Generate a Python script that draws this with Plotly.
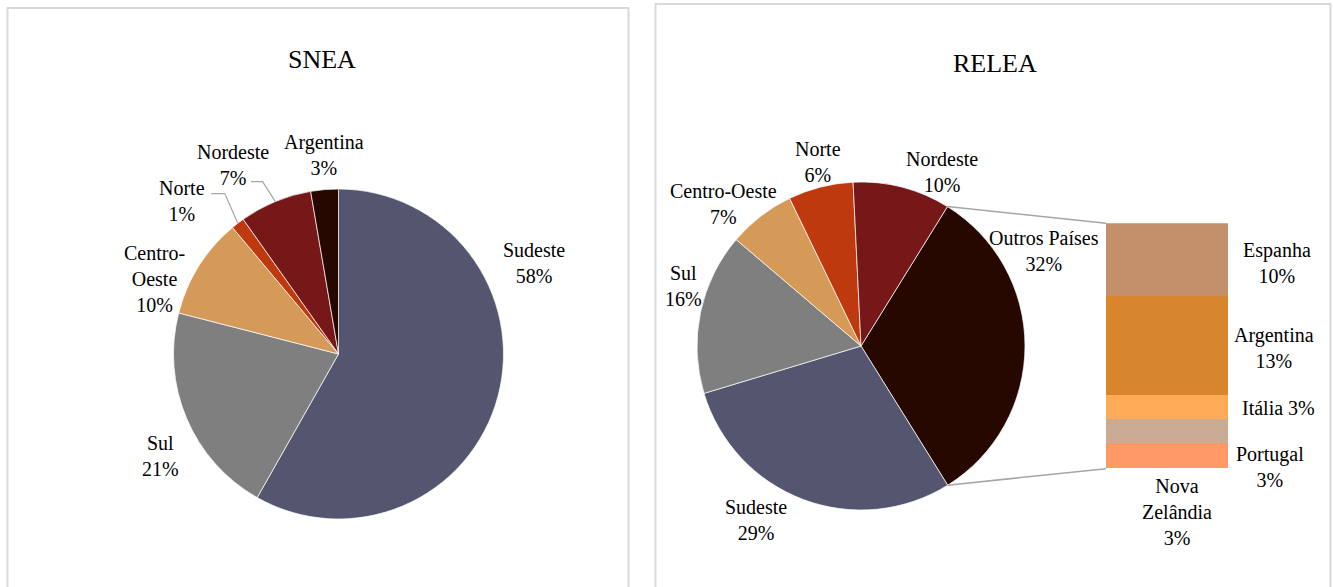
import math
import plotly.graph_objects as go

# ---------------- data ----------------
snea_labels = ["Sudeste", "Sul", "Centro-Oeste", "Norte", "Nordeste", "Argentina"]
snea_values = [58.2, 20.8, 9.9, 1.3, 7.1, 2.7]

relea_labels = ["Outros Países", "Sudeste", "Sul", "Centro-Oeste", "Norte", "Nordeste"]
relea_values = [32.3, 29.2, 15.9, 6.6, 6.4, 9.6]

outros_labels = ["Espanha", "Argentina", "Itália", "Nova Zelândia", "Portugal"]
outros_values = [9.6, 13.0, 3.2, 3.2, 3.3]

titles = ["SNEA", "RELEA"]

# ---------------- styles / layout ----------------
W, H = 1333, 587
FONT = "Liberation Serif, Times New Roman, serif"
LINE_GRAY = "#A6A6A6"

snea_colors = ["#545670", "#7F7F7F", "#D59A58", "#BE3A0E", "#761818", "#260800"]
relea_colors = ["#260800", "#545670", "#7F7F7F", "#D59A58", "#BE3A0E", "#761818"]
outros_colors = ["#C4906B", "#D7862D", "#FFAA56", "#C9AA92", "#FF9A66"]

# pie geometry in pixels (center x, center y, radius)
snea_geom = (338.5, 354.0, 165.0)
relea_geom = (861.0, 346.0, 164.0)
relea_rotation = 31.8
# bar-of-pie box in pixels (x0, x1, ytop, ybottom)
bar_box = (1106.0, 1228.0, 223.3, 468.7)

# label centres (pixels) and line-break overrides
snea_label_pos = {
    "Sudeste": (533.7, 263), "Sul": (160, 455.6), "Centro-Oeste": (154.5, 279),
    "Norte": (182, 200.5), "Nordeste": (232.8, 164.6), "Argentina": (323.5, 155),
}
relea_label_pos = {
    "Outros Países": (1044, 250.7), "Sudeste": (755.8, 520.4), "Sul": (683.2, 286),
    "Centro-Oeste": (723.9, 204), "Norte": (817.7, 162), "Nordeste": (941.9, 171.7),
}
outros_label_pos = {
    "Espanha": (1276.7, 263.4), "Argentina": (1273.8, 348), "Itália": (1278.4, 408.3),
    "Nova Zelândia": (1177.3, 512), "Portugal": (1270, 466.7),
}
snea_breaks = {"Centro-Oeste": "Centro-<br>Oeste"}
outros_breaks = {"Nova Zelândia": "Nova<br>Zelândia"}
one_line = {"Itália"}
# leader lines for small SNEA slices: label-side points (pixels)
snea_leaders = {"Norte": [(211.3, 193.6), (224.8, 193.6)],
                "Nordeste": [(251.0, 181.6), (262.6, 181.6)]}


def px(x):
    return x / W


def py(y):
    return 1 - y / H


def domain_of(geom):
    cx, cy, r = geom
    return dict(x=[px(cx - r), px(cx + r)], y=[py(cy + r), py(cy - r)])


def slice_point(geom, rotation, values, idx, frac):
    """pixel point on pie rim at fraction frac inside slice idx"""
    total = sum(values)
    start = sum(values[:idx])
    a = math.radians(rotation + 360.0 * (start + frac * values[idx]) / total)
    cx, cy, r = geom
    return cx + r * math.sin(a), cy - r * math.cos(a)


fig = go.Figure()

fig.add_trace(go.Pie(
    labels=snea_labels, values=snea_values, sort=False, direction="clockwise",
    rotation=0, textinfo="none", showlegend=False, domain=domain_of(snea_geom),
    marker=dict(colors=snea_colors, line=dict(color="white", width=0.7)),
))
fig.add_trace(go.Pie(
    labels=relea_labels, values=relea_values, sort=False, direction="clockwise",
    rotation=relea_rotation, textinfo="none", showlegend=False,
    domain=domain_of(relea_geom),
    marker=dict(colors=relea_colors, line=dict(color="white", width=0.7)),
))

for lab, val, col in reversed(list(zip(outros_labels, outros_values, outros_colors))):
    fig.add_trace(go.Bar(x=["Outros"], y=[val], name=lab, marker=dict(color=col, line=dict(width=0)),
                         showlegend=False, xaxis="x", yaxis="y"))

shapes = []
annotations = []

# panel borders
for x0, x1, y0 in [(7.5, 628.5, 8.0), (655.5, 1330.5, 4.0)]:
    shapes.append(dict(type="rect", xref="paper", yref="paper", x0=px(x0), x1=px(x1),
                       y0=py(600), y1=py(y0), line=dict(color="#D9D9D9", width=2),
                       fillcolor="rgba(0,0,0,0)", layer="below"))

# titles
for t, (x, y) in zip(titles, [(322, 60), (995, 63.5)]):
    annotations.append(dict(text=t, x=px(x), y=py(y), xref="paper", yref="paper",
                            showarrow=False, xanchor="center", yanchor="middle",
                            font=dict(family=FONT, size=26, color="black")))


def add_label(text, pos):
    annotations.append(dict(text=text, x=px(pos[0]), y=py(pos[1]), xref="paper", yref="paper",
                            showarrow=False, xanchor="center", yanchor="middle",
                            font=dict(family=FONT, size=20, color="black")))


snea_total = sum(snea_values)
for lab, val in zip(snea_labels, snea_values):
    name = snea_breaks.get(lab, lab)
    add_label(f"{name}<br>{round(100 * val / snea_total)}%", snea_label_pos[lab])

relea_total = sum(relea_values)
for lab, val in zip(relea_labels, relea_values):
    add_label(f"{lab}<br>{round(100 * val / relea_total)}%", relea_label_pos[lab])

for lab, val in zip(outros_labels, outros_values):
    name = outros_breaks.get(lab, lab)
    sep = " " if lab in one_line else "<br>"
    add_label(f"{name}{sep}{round(100 * val / relea_total)}%", outros_label_pos[lab])

# leader lines SNEA
for lab, pts in snea_leaders.items():
    i = snea_labels.index(lab)
    end = slice_point(snea_geom, 0, snea_values, i, 0.5)
    allp = pts + [end]
    path = "M " + " L ".join(f"{px(a)},{py(b)}" for a, b in allp)
    shapes.append(dict(type="path", xref="paper", yref="paper", path=path,
                       line=dict(color=LINE_GRAY, width=1.2)))

# connector lines RELEA pie -> bar
bx0, bx1, btop, bbot = bar_box
oi = relea_labels.index("Outros Países")
p_top = slice_point(relea_geom, relea_rotation, relea_values, oi, 0.0)
p_bot = slice_point(relea_geom, relea_rotation, relea_values, oi, 1.0)
for (a, b), (c, d) in [(p_top, (bx0, btop)), (p_bot, (bx0, bbot))]:
    shapes.append(dict(type="line", xref="paper", yref="paper", x0=px(a), y0=py(b),
                       x1=px(c), y1=py(d), line=dict(color=LINE_GRAY, width=1.5)))

fig.update_layout(
    width=W, height=H, margin=dict(l=0, r=0, t=0, b=0),
    paper_bgcolor="white", plot_bgcolor="rgba(0,0,0,0)",
    barmode="stack", bargap=0,
    xaxis=dict(domain=[px(bx0), px(bx1)], range=[-0.5, 0.5], visible=False, fixedrange=True),
    yaxis=dict(domain=[py(bbot), py(btop)], range=[0, sum(outros_values)], visible=False,
               fixedrange=True),
    shapes=shapes, annotations=annotations,
    font=dict(family=FONT),
)

fig.write_html("out.html")
